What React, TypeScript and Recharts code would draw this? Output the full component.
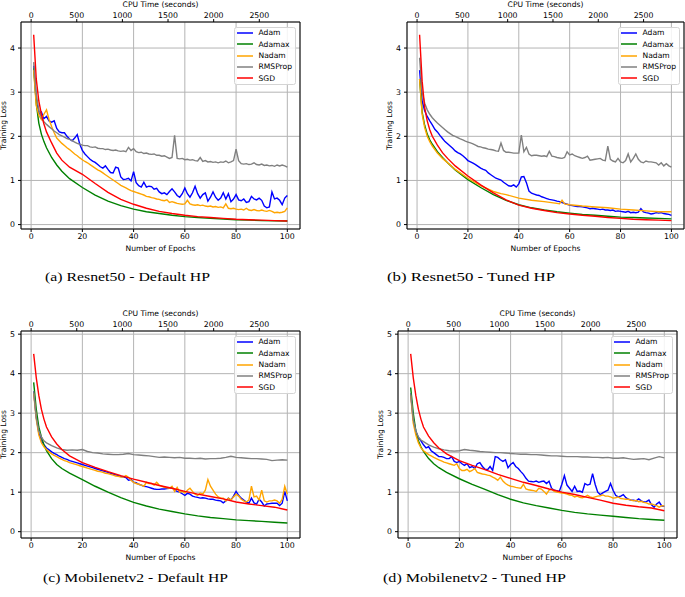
import React from "react";
import { CartesianGrid, Legend, Line, LineChart, XAxis, YAxis } from "recharts";

// epoch grids the values were read on
const EPOCHS_ALL = Array.from({ length: 100 }, (_, i) => i + 1);
const EPOCHS_SPARSE = [1, 2, 3, 4, 5, 6, 8, 10, 12, 15, 20, 25, 30, 35, 40, 45, 50, 55, 60, 65, 70, 75, 80, 85, 90, 95, 100];
const EPOCHS_HALF = [1, 2, 3, 4, 5, 6, ...Array.from({ length: 47 }, (_, i) => 8 + 2 * i)];
const EPOCHS_B_NADAM = [1, 2, 3, 4, 5, 6, 8, 10, 12, 15, 20, 25, 30, 33, 35, 40, 45, 50, 55, 56, 57, 58, 60, 65, 70, 75, 80, 85, 90, 95, 100];

const EPOCH_TICKS = [0, 20, 40, 60, 80, 100];
const CPU_TICKS = [0, 500, 1000, 1500, 2000, 2500];
const CPU_PER_EPOCH = 28.07;

// (a) Resnet50 - Default HP
const aAdam = [
  3.6, 2.85, 2.5, 2.55, 2.4, 2.45, 2.35, 2.32, 2.35, 2.18,
  2.1, 2.08, 2.08, 2.0, 1.94, 1.9, 1.96, 2.04, 1.82, 1.68,
  1.6, 1.54, 1.48, 1.44, 1.41, 1.36, 1.31, 1.28, 1.33, 1.25,
  1.18, 1.17, 1.3, 1.28, 1.08, 1.02, 1.03, 1.05, 0.99, 1.2,
  0.95, 0.88, 0.85, 0.96, 0.85, 0.87, 0.86, 0.8, 0.82, 0.74,
  0.7, 0.72, 0.68, 0.75, 0.81, 0.74, 0.66, 0.62, 0.7, 0.83,
  0.7, 0.62, 0.72, 0.87, 0.7, 0.6, 0.68, 0.72, 0.53, 0.62,
  0.74, 0.62, 0.55, 0.6, 0.72, 0.58, 0.7, 0.52, 0.58, 0.68,
  0.56, 0.54, 0.58, 0.5, 0.52, 0.64, 0.58, 0.56, 0.6, 0.55,
  0.42, 0.38, 0.4, 0.74, 0.58, 0.6, 0.55, 0.45, 0.6, 0.66,
];
const aAdamax = [3.55, 2.75, 2.3, 2.05, 1.88, 1.74, 1.52, 1.35, 1.21, 1.04, 0.84, 0.67, 0.53, 0.43, 0.35, 0.29, 0.25, 0.21, 0.18, 0.16, 0.14, 0.125, 0.11, 0.1, 0.09, 0.085, 0.08];
const aNadam = [
  3.5, 2.7, 2.48, 2.38, 2.5, 2.6, 2.38, 2.22, 2.08, 1.96,
  1.9, 1.84, 1.79, 1.74, 1.7, 1.65, 1.6, 1.56, 1.51, 1.47,
  1.43, 1.4, 1.36, 1.32, 1.28, 1.24, 1.21, 1.17, 1.13, 1.09,
  1.05, 1.01, 0.97, 0.93, 0.89, 0.86, 0.83, 0.8, 0.77, 0.75,
  0.73, 0.71, 0.69, 0.67, 0.64, 0.63, 0.61, 0.6, 0.58, 0.57,
  0.55, 0.54, 0.56, 0.5, 0.52, 0.5, 0.48, 0.47, 0.46, 0.47,
  0.55, 0.47, 0.45, 0.44, 0.45, 0.43, 0.44, 0.42, 0.41, 0.42,
  0.4, 0.41, 0.39, 0.4, 0.38, 0.47, 0.37, 0.36, 0.37, 0.35,
  0.34, 0.35, 0.33, 0.37, 0.33, 0.32, 0.34, 0.32, 0.31, 0.33,
  0.31, 0.3, 0.32, 0.3, 0.27, 0.28, 0.27, 0.28, 0.3, 0.38,
];
const aRms = [
  3.68, 2.95, 2.6, 2.42, 2.33, 2.27, 2.22, 2.17, 2.12, 2.08,
  2.04, 2.01, 1.98, 1.95, 1.93, 1.9, 1.87, 1.84, 1.82, 1.8,
  1.79, 1.79, 1.76, 1.75, 1.76, 1.73, 1.72, 1.72, 1.7, 1.71,
  1.69, 1.68, 1.69, 1.67, 1.66, 1.67, 1.65, 1.75, 1.68, 1.72,
  1.65, 1.63, 1.64, 1.61, 1.62, 1.6, 1.59, 1.6, 1.57, 1.57,
  1.55, 1.56, 1.53, 1.5, 1.52, 2.02, 1.5, 1.49, 1.5, 1.47,
  1.48, 1.46, 1.47, 1.45, 1.44, 1.52, 1.43, 1.45, 1.42, 1.43,
  1.41, 1.42, 1.4, 1.42, 1.41, 1.44, 1.4, 1.42, 1.45, 1.71,
  1.45, 1.38, 1.37, 1.38, 1.36, 1.37, 1.4, 1.36, 1.35, 1.37,
  1.34, 1.35, 1.33, 1.34, 1.32, 1.35, 1.33, 1.35, 1.33, 1.3,
];
const aSgd = [4.3, 3.3, 2.8, 2.5, 2.28, 2.1, 1.85, 1.62, 1.46, 1.3, 1.14, 0.93, 0.73, 0.57, 0.46, 0.37, 0.3, 0.25, 0.21, 0.18, 0.16, 0.14, 0.12, 0.11, 0.1, 0.09, 0.08];

// (b) Resnet50 - Tuned HP
const bAdam = [
  3.5, 2.8, 2.58, 2.45, 2.35, 2.26, 2.16, 2.1, 2.02, 1.95,
  1.88, 1.83, 1.78, 1.73, 1.67, 1.63, 1.6, 1.56, 1.51, 1.45,
  1.42, 1.39, 1.36, 1.32, 1.28, 1.25, 1.23, 1.17, 1.13, 1.09,
  1.05, 1.03, 1.01, 0.96, 0.92, 0.88, 0.87, 0.9, 0.85, 0.92,
  1.08, 1.09, 0.95, 0.76, 0.71, 0.69, 0.67, 0.66, 0.63, 0.61,
  0.59, 0.57, 0.56, 0.55, 0.53, 0.52, 0.5, 0.48, 0.46, 0.44,
  0.43, 0.42, 0.41, 0.41, 0.4, 0.39, 0.38, 0.36, 0.37, 0.36,
  0.35, 0.34, 0.35, 0.33, 0.33, 0.32, 0.33, 0.3, 0.31, 0.3,
  0.29, 0.28, 0.3, 0.27, 0.28, 0.27, 0.28, 0.36, 0.29, 0.27,
  0.26, 0.24, 0.25, 0.27, 0.26, 0.27, 0.25, 0.24, 0.23, 0.21,
];
const bAdamax = [3.3, 2.55, 2.25, 2.05, 1.92, 1.82, 1.65, 1.52, 1.4, 1.24, 1.02, 0.84, 0.68, 0.55, 0.45, 0.38, 0.33, 0.29, 0.26, 0.23, 0.21, 0.19, 0.17, 0.16, 0.15, 0.14, 0.13];
const bNadam = [3.3, 2.5, 2.2, 2.0, 1.88, 1.78, 1.62, 1.5, 1.4, 1.25, 1.05, 0.88, 0.75, 0.7, 0.68, 0.6, 0.55, 0.52, 0.48, 0.47, 0.55, 0.47, 0.45, 0.42, 0.4, 0.38, 0.35, 0.33, 0.31, 0.29, 0.29];
const bRms = [
  3.78, 3.0, 2.75, 2.6, 2.5, 2.42, 2.36, 2.3, 2.25, 2.2,
  2.15, 2.1, 2.06, 2.02, 2.0, 1.97, 1.94, 1.92, 1.89, 1.87,
  1.85, 1.83, 1.8, 1.77, 1.76, 1.74, 1.73, 1.71, 1.7, 1.69,
  1.67, 1.66, 1.85, 1.68, 1.64, 1.64, 1.63, 1.62, 1.62, 1.62,
  2.03, 1.65, 1.75, 1.6, 1.56, 1.57, 1.57, 1.56, 1.55, 1.56,
  1.54, 1.66, 1.55, 1.54, 1.52, 1.51, 1.5, 1.52, 1.65, 1.58,
  1.6, 1.56, 1.54, 1.52, 1.5, 1.52, 1.55, 1.46, 1.47, 1.48,
  1.49, 1.5, 1.46, 1.45, 1.78, 1.48, 1.44, 1.42, 1.5, 1.42,
  1.4, 1.45, 1.6, 1.42, 1.5, 1.6, 1.48, 1.42, 1.4, 1.44,
  1.42, 1.42, 1.41, 1.4, 1.35, 1.4, 1.33, 1.38, 1.33, 1.3,
];
const bSgd = [4.3, 3.25, 2.65, 2.35, 2.15, 2.0, 1.8, 1.63, 1.5, 1.33, 1.1, 0.9, 0.72, 0.56, 0.44, 0.37, 0.32, 0.27, 0.24, 0.21, 0.19, 0.16, 0.14, 0.12, 0.11, 0.1, 0.09];

// (c) Mobilenetv2 - Default HP
const cAdam = [
  3.55, 2.9, 2.5, 2.3, 2.2, 2.12, 2.07, 2.02, 1.98, 1.95,
  1.91, 1.88, 1.85, 1.83, 1.8, 1.78, 1.76, 1.74, 1.72, 1.7,
  1.68, 1.66, 1.64, 1.62, 1.6, 1.58, 1.56, 1.54, 1.52, 1.5,
  1.48, 1.46, 1.44, 1.42, 1.4, 1.38, 1.37, 1.3, 1.32, 1.25,
  1.24, 1.2, 1.18, 1.15, 1.14, 1.12, 1.1, 1.08, 1.07, 1.07,
  1.08, 1.08, 1.09, 1.1, 1.12, 1.05, 1.02, 1.0, 0.96, 0.92,
  0.97, 0.95, 0.9, 0.88, 0.87, 0.85, 0.86, 0.85, 0.83, 0.82,
  0.82, 0.8, 0.79, 0.78, 0.73, 0.78, 0.85, 0.8, 0.9, 1.02,
  0.92, 0.85, 0.8, 0.75, 0.72, 0.85, 0.73, 0.7, 0.82, 0.75,
  0.65, 0.7, 0.71, 0.72, 0.72, 0.72, 0.66, 0.72, 1.02, 0.78,
];
const cAdamax = [3.78, 3.1, 2.65, 2.4, 2.2, 2.05, 1.85, 1.7, 1.6, 1.48, 1.32, 1.15, 1.0, 0.86, 0.74, 0.65, 0.57, 0.51, 0.45, 0.4, 0.36, 0.33, 0.3, 0.28, 0.26, 0.24, 0.22];
const cNadam = [
  3.5, 2.85, 2.45, 2.25, 2.15, 2.08, 2.02, 1.97, 1.93, 1.9,
  1.86, 1.83, 1.8, 1.78, 1.75, 1.73, 1.71, 1.69, 1.67, 1.65,
  1.63, 1.61, 1.59, 1.57, 1.55, 1.53, 1.52, 1.5, 1.48, 1.47,
  1.45, 1.43, 1.41, 1.4, 1.38, 1.38, 1.42, 1.38, 1.3, 1.25,
  1.22, 1.2, 1.18, 1.15, 1.25, 1.22, 1.22, 1.18, 1.25, 1.18,
  1.15, 1.12, 1.11, 1.1, 1.15, 1.02, 1.12, 1.0, 1.02, 0.98,
  1.05, 1.1, 1.02, 0.95, 0.92, 0.98, 0.95, 1.05, 1.32, 1.15,
  1.05, 0.95, 0.88, 0.85, 0.85, 0.78, 0.85, 0.8, 0.88, 0.95,
  0.9, 0.82, 0.78, 0.75, 0.8, 1.15, 0.88, 0.9, 0.8, 1.05,
  0.78, 0.75, 0.78, 0.78, 0.8, 0.78, 0.72, 0.82, 1.15, 0.95,
];
const cRms = [
  3.55, 2.9, 2.55, 2.4, 2.3, 2.25, 2.18, 2.12, 2.08, 2.06,
  2.07, 2.06, 2.08, 2.03, 2.0, 1.99, 1.97, 1.96, 1.95, 1.95,
  1.96, 1.98, 1.95, 1.94, 1.93, 1.92, 1.9, 1.88, 1.89, 1.88,
  1.87, 1.88, 1.86, 1.86, 1.85, 1.86, 1.84, 1.85, 1.85, 1.86,
  1.88, 1.91, 1.88, 1.87, 1.86, 1.85, 1.85, 1.84, 1.83, 1.8,
  1.81, 1.82, 1.81,
];
const cSgd = [4.5, 3.9, 3.45, 3.1, 2.85, 2.65, 2.4, 2.22, 2.08, 1.92, 1.75, 1.63, 1.52, 1.42, 1.33, 1.25, 1.17, 1.1, 1.02, 0.95, 0.89, 0.83, 0.75, 0.7, 0.66, 0.62, 0.55];

// (d) Mobilenetv2 - Tuned HP
const dAdam = [
  3.5, 2.85, 2.55, 2.38, 2.3, 2.2, 2.12, 2.15, 2.05, 2.0,
  1.95, 1.9, 1.9, 1.88, 1.85, 1.85, 1.9, 1.78, 1.75, 1.78,
  1.72, 1.68, 1.72, 1.62, 1.65, 1.6, 1.72, 1.75, 1.65, 1.58,
  1.57, 1.65, 1.55, 1.9, 1.88, 1.82, 1.78, 1.82, 1.62, 1.7,
  1.75, 1.65, 1.6, 1.52, 1.45, 1.35, 1.28, 1.27, 1.26, 1.28,
  1.25, 1.27, 1.28, 1.22, 1.28, 1.1, 1.05, 1.04, 1.02, 1.2,
  1.42, 1.18, 1.1, 1.02, 1.15, 1.02, 1.03, 1.0, 1.22, 1.18,
  1.2, 1.47, 1.2, 1.0, 0.94, 0.98, 1.02, 1.05, 1.22, 1.05,
  0.92, 0.88, 0.9, 0.94, 0.86, 0.82, 0.8, 0.8, 0.78, 0.83,
  0.78, 0.75, 0.76, 0.8, 0.68, 0.62, 0.7, 0.75, 0.65, 0.64,
];
const dAdamax = [3.65, 3.0, 2.55, 2.3, 2.15, 2.03, 1.85, 1.72, 1.62, 1.5, 1.34, 1.2, 1.07, 0.94, 0.82, 0.73, 0.66, 0.6, 0.54, 0.49, 0.45, 0.42, 0.39, 0.36, 0.33, 0.31, 0.29];
const dNadam = [
  3.45, 2.75, 2.45, 2.25, 2.12, 2.05, 2.0, 1.95, 1.92, 1.88,
  1.85, 1.82, 1.79, 1.76, 1.74, 1.72, 1.7, 1.68, 1.72, 1.6,
  1.55, 1.55, 1.58, 1.52, 1.55, 1.6, 1.5, 1.48, 1.46, 1.45,
  1.43, 1.42, 1.38, 1.35, 1.3, 1.38, 1.28, 1.22, 1.18, 1.15,
  1.14, 1.12, 1.11, 1.1, 1.2, 1.08, 1.06, 1.05, 1.04, 1.02,
  1.1, 1.08, 1.02, 0.95, 1.05, 1.08, 1.02, 1.0, 0.99, 0.98,
  0.97, 0.95, 0.93, 0.92, 0.88, 0.9, 0.87, 0.86, 0.88, 0.92,
  0.88, 0.86, 0.88, 0.9, 0.91, 0.93, 0.9, 0.9, 0.88, 0.85,
  0.86, 0.88, 0.84, 0.83, 0.82, 0.82, 0.8, 0.78, 0.79, 0.76,
  0.77, 0.74, 0.73, 0.7, 0.7, 0.68, 0.66, 0.62, 0.66, 0.65,
];
const dRms = [
  3.5, 2.85, 2.55, 2.4, 2.32, 2.28, 2.2, 2.14, 2.1, 2.07,
  2.05, 2.04, 2.05, 2.08, 2.06, 2.05, 2.03, 2.02, 2.01, 2.0,
  2.0, 1.99, 1.98, 1.97, 1.96, 1.96, 1.95, 1.95, 1.94, 1.93,
  1.92, 1.92, 1.91, 1.9, 1.9, 1.9, 1.89, 1.89, 1.88, 1.88,
  1.87, 1.88, 1.86, 1.86, 1.87, 1.85, 1.83, 1.84, 1.85, 1.82,
  1.86, 1.9, 1.87,
];
const dSgd = [4.5, 3.9, 3.45, 3.1, 2.85, 2.65, 2.42, 2.25, 2.12, 1.97, 1.8, 1.68, 1.57, 1.45, 1.35, 1.25, 1.17, 1.08, 1.0, 0.94, 0.87, 0.8, 0.72, 0.67, 0.63, 0.6, 0.53];

const COLORS: Record<string, string> = {
  Adam: "#0000ff",
  Adamax: "#008000",
  Nadam: "#ffa500",
  RMSProp: "#808080",
  SGD: "#ff0000",
};

const FONT = '"DejaVu Sans", sans-serif';
const TICK = { fontSize: 7.8, fill: "#000", fontFamily: FONT };
const LEFT_W = 24;
const TOP_H = 22;
const BOTTOM_H = 22;
const EDGE_W = 1;
const PAD_R = 2;
const EPOCH_DOMAIN = [-3.95, 104.95];

type Series = { name: string; epochs: number[]; loss: number[] };

const rows = (epochs: number[], loss: number[]) =>
  epochs.map((epoch, i) => ({ epoch, loss: loss[i] }));

// invisible helper so the top CPU axis and the right frame edge get drawn
const cpuRows = CPU_TICKS.map((cpu) => ({ cpu, edge: 0.5 }));

const PANELS = [
  {
    id: "a",
    frame: { left: 21, top: 22, width: 279, height: 207 },
    yDomain: [-0.1, 4.59],
    yTicks: [0, 1, 2, 3, 4],
    series: [
      { name: "Adam", epochs: EPOCHS_ALL, loss: aAdam },
      { name: "Adamax", epochs: EPOCHS_SPARSE, loss: aAdamax },
      { name: "Nadam", epochs: EPOCHS_ALL, loss: aNadam },
      { name: "RMSProp", epochs: EPOCHS_ALL, loss: aRms },
      { name: "SGD", epochs: EPOCHS_SPARSE, loss: aSgd },
    ],
  },
  {
    id: "b",
    frame: { left: 407, top: 22, width: 277, height: 207 },
    yDomain: [-0.1, 4.59],
    yTicks: [0, 1, 2, 3, 4],
    series: [
      { name: "Adam", epochs: EPOCHS_ALL, loss: bAdam },
      { name: "Adamax", epochs: EPOCHS_SPARSE, loss: bAdamax },
      { name: "Nadam", epochs: EPOCHS_B_NADAM, loss: bNadam },
      { name: "RMSProp", epochs: EPOCHS_ALL, loss: bRms },
      { name: "SGD", epochs: EPOCHS_SPARSE, loss: bSgd },
    ],
  },
  {
    id: "c",
    frame: { left: 21, top: 331, width: 279, height: 207 },
    yDomain: [-0.16, 5.08],
    yTicks: [0, 1, 2, 3, 4, 5],
    series: [
      { name: "Adam", epochs: EPOCHS_ALL, loss: cAdam },
      { name: "Adamax", epochs: EPOCHS_SPARSE, loss: cAdamax },
      { name: "Nadam", epochs: EPOCHS_ALL, loss: cNadam },
      { name: "RMSProp", epochs: EPOCHS_HALF, loss: cRms },
      { name: "SGD", epochs: EPOCHS_SPARSE, loss: cSgd },
    ],
  },
  {
    id: "d",
    frame: { left: 398, top: 331, width: 279, height: 207 },
    yDomain: [-0.16, 5.08],
    yTicks: [0, 1, 2, 3, 4, 5],
    series: [
      { name: "Adam", epochs: EPOCHS_ALL, loss: dAdam },
      { name: "Adamax", epochs: EPOCHS_SPARSE, loss: dAdamax },
      { name: "Nadam", epochs: EPOCHS_ALL, loss: dNadam },
      { name: "RMSProp", epochs: EPOCHS_HALF, loss: dRms },
      { name: "SGD", epochs: EPOCHS_SPARSE, loss: dSgd },
    ],
  },
];

function LegendBox({ payload }: any) {
  const items = (payload ?? []).filter((p: any) => COLORS[p.value]);
  return (
    <div
      style={{
        width: 62,
        height: 58,
        boxSizing: "border-box",
        border: "1px solid #d4d4d4",
        borderRadius: 2.5,
        background: "rgba(255,255,255,0.85)",
      }}
    >
      {items.map((p: any) => (
        <div key={p.value} style={{ display: "flex", alignItems: "center", height: 11.3, paddingLeft: 2.5 }}>
          <svg width={16} height={4} style={{ display: "block" }}>
            <line x1={0} y1={2} x2={16} y2={2} stroke={COLORS[p.value]} strokeWidth={1.5} />
          </svg>
          <span style={{ marginLeft: 5.5, fontSize: 7.6, lineHeight: 1, color: "#000", fontFamily: FONT }}>
            {p.value}
          </span>
        </div>
      ))}
    </div>
  );
}

function Panel({ frame, yDomain, yTicks, series }: any) {
  const width = LEFT_W + frame.width + EDGE_W + PAD_R;
  const height = TOP_H + frame.height + BOTTOM_H;
  const axisProps = {
    tick: TICK,
    tickSize: 3,
    axisLine: { stroke: "#000" },
    tickLine: { stroke: "#000" },
    interval: 0 as const,
  };
  return (
    <div style={{ position: "absolute", left: frame.left - LEFT_W, top: frame.top - TOP_H }}>
      <LineChart width={width} height={height} margin={{ top: 0, right: PAD_R, bottom: 0, left: 0 }}>
        <CartesianGrid xAxisId="epoch" yAxisId="loss" stroke="#b4b4b4" strokeWidth={1} />
        <XAxis
          xAxisId="epoch"
          dataKey="epoch"
          type="number"
          domain={EPOCH_DOMAIN}
          ticks={EPOCH_TICKS}
          height={BOTTOM_H}
          tickMargin={1.5}
          {...axisProps}
        />
        <XAxis
          xAxisId="cpu"
          dataKey="cpu"
          orientation="top"
          type="number"
          domain={[EPOCH_DOMAIN[0] * CPU_PER_EPOCH, EPOCH_DOMAIN[1] * CPU_PER_EPOCH]}
          ticks={CPU_TICKS}
          height={TOP_H}
          tickMargin={1.5}
          {...axisProps}
        />
        <YAxis
          yAxisId="loss"
          type="number"
          domain={yDomain}
          ticks={yTicks}
          width={LEFT_W}
          tickMargin={3}
          {...axisProps}
        />
        <YAxis
          yAxisId="edge"
          orientation="right"
          type="number"
          domain={[0, 1]}
          width={EDGE_W}
          tick={false}
          tickLine={false}
          axisLine={{ stroke: "#000" }}
        />
        <Line
          xAxisId="cpu"
          yAxisId="edge"
          data={cpuRows}
          dataKey="edge"
          stroke="none"
          dot={false}
          activeDot={false}
          legendType="none"
          isAnimationActive={false}
        />
        {series.map((s: Series) => (
          <Line
            key={s.name}
            xAxisId="epoch"
            yAxisId="loss"
            data={rows(s.epochs, s.loss)}
            dataKey="loss"
            name={s.name}
            type="linear"
            stroke={COLORS[s.name]}
            strokeWidth={1.4}
            dot={false}
            activeDot={false}
            isAnimationActive={false}
          />
        ))}
        <Legend
          layout="vertical"
          align="center"
          verticalAlign="middle"
          content={LegendBox}
          wrapperStyle={{ left: LEFT_W + frame.width - 4.5 - 62, top: TOP_H + 4.5, width: 62, height: 58 }}
        />
      </LineChart>
    </div>
  );
}

const CAPTIONS = [
  { text: "(a) Resnet50 - Default HP", x: 127.5, y: 281, w: 165 },
  { text: "(b) Resnet50 - Tuned HP", x: 471, y: 281, w: 168 },
  { text: "(c) Mobilenetv2 - Default HP", x: 135.5, y: 582, w: 185 },
  { text: "(d) Mobilenetv2 - Tuned HP", x: 474.5, y: 582, w: 183 },
];

export default function App() {
  return (
    <div
      style={{
        position: "absolute",
        left: 0,
        top: 0,
        width: 685,
        height: 597,
        background: "#fff",
        overflow: "hidden",
        fontFamily: FONT,
      }}
    >
      {PANELS.map((p) => (
        <Panel key={p.id} {...p} />
      ))}
      <svg
        width={685}
        height={597}
        style={{ position: "absolute", left: 0, top: 0, pointerEvents: "none" }}
        fontFamily={FONT}
        fontSize={7.6}
      >
        {PANELS.map((p) => {
          const cx = p.frame.left + p.frame.width / 2;
          const cy = p.frame.top + p.frame.height / 2;
          const top = p.frame.top;
          const bottom = p.frame.top + p.frame.height;
          const lx = p.frame.left - 15;
          return (
            <g key={p.id}>
              <text x={cx} y={top - 15.5} textAnchor="middle">CPU Time (seconds)</text>
              <text x={cx} y={bottom + 22} textAnchor="middle">Number of Epochs</text>
              <text x={lx} y={cy} textAnchor="middle" transform={`rotate(-90 ${lx} ${cy})`}>
                Training Loss
              </text>
            </g>
          );
        })}
        {CAPTIONS.map((c) => (
          <text
            key={c.text}
            x={c.x}
            y={c.y}
            textAnchor="middle"
            fontFamily='"Liberation Serif", serif'
            fontSize={12.5}
            textLength={c.w}
            lengthAdjust="spacingAndGlyphs"
          >
            {c.text}
          </text>
        ))}
      </svg>
    </div>
  );
}
